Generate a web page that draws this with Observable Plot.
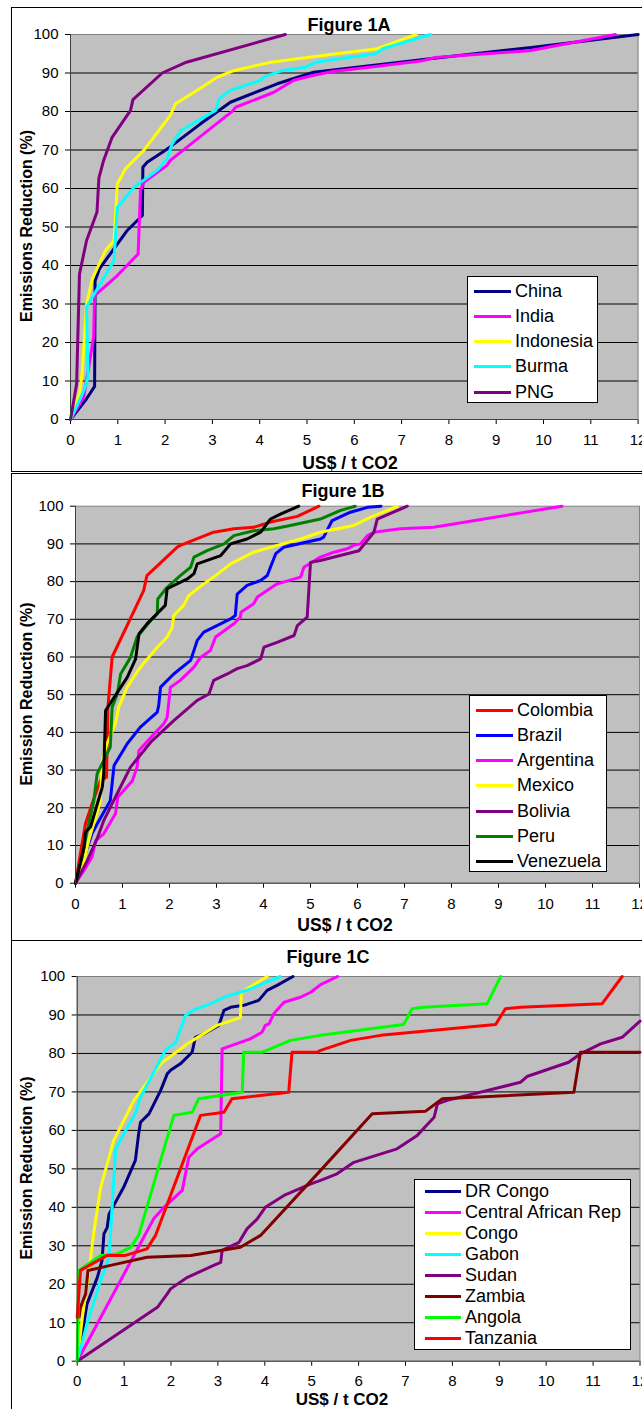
<!DOCTYPE html>
<html><head><meta charset="utf-8">
<script src="https://cdn.jsdelivr.net/npm/d3@7"></script>
<script src="https://cdn.jsdelivr.net/npm/@observablehq/plot@0.6"></script>
<style>
html,body{margin:0;padding:0;background:#fff;}
#page{position:relative;width:642px;height:1409px;overflow:hidden;font-family:'Liberation Sans',Arial,sans-serif;color:#000;}
.panel{position:absolute;left:0;}
.frame{position:absolute;border:1px solid #000;box-sizing:border-box;pointer-events:none;}
.t{position:absolute;font-weight:bold;line-height:1;white-space:nowrap;}
.legend{position:absolute;background:#fff;border:1px solid #000;box-sizing:border-box;}
.legend .sw{position:absolute;height:3px;}
.legend .lb{position:absolute;font-size:18px;line-height:1;white-space:nowrap;}
</style>
</head><body>
<div id="page"></div>
<script>
// ---------- Figure 1A ----------
const seriesA = ["China","India","Indonesia","Burma","PNG"];
const colorsA = ["#000080","#FF00FF","#FFFF00","#00FFFF","#800080"];
const china = [[0,0],[0.34,5.4],[0.51,8.6],[0.52,36],[0.61,39.1],[1.2,49.1],[1.52,53],[1.53,65.5],[1.62,66.8],[2.0,69.9],[2.15,71.2],[2.75,76.8],[3.38,82.4],[4.37,87.2],[5.14,90.2],[7.6,93.7],[9.79,96.7],[12,100]];
const india = [[0,0],[0.28,5.8],[0.49,21.4],[0.51,32.2],[0.99,37.4],[1.43,43],[1.48,59.5],[1.55,61.6],[2.04,66],[2.11,67.3],[3.31,79],[3.41,79.9],[3.49,81.1],[4.3,85],[4.72,88.1],[5.1,89.3],[5.5,90.3],[6.58,91.9],[7.44,93.2],[7.7,94],[9.7,95.8],[11.52,100]];
const indonesia = [[0,0],[0.2,7.1],[0.25,12.7],[0.34,30],[0.46,36.5],[0.74,43.9],[0.92,46.5],[0.99,61.2],[1.16,65.1],[1.55,69.9],[2.11,79],[2.22,82],[2.68,85.5],[3.1,88.9],[3.45,90.6],[4.23,92.8],[5.5,94.8],[6.49,96.3],[7.31,100]];
const burma = [[0,0],[0.3,8],[0.37,11],[0.34,29.2],[0.92,41.3],[0.99,55.1],[1.34,60.3],[1.83,64.7],[2.04,67.7],[2.15,71.6],[2.33,75],[3.07,80.3],[3.14,83.3],[3.38,85.5],[4.02,88.1],[4.09,89],[4.44,90.5],[4.97,91.5],[5.2,92.8],[5.5,93.4],[6.45,95],[6.6,96.3],[7.61,100]];
const png = [[0,0],[0.05,3.5],[0.13,9.3],[0.155,21.4],[0.19,37.8],[0.34,46.5],[0.56,53.9],[0.6,62.7],[0.7,67.3],[0.88,73.3],[1.27,80.3],[1.32,83.1],[1.94,90],[2.45,92.8],[4.54,100]];

// ---------- Figure 1B ----------
const seriesB = ["Colombia","Brazil","Argentina","Mexico","Bolivia","Peru","Venezuela"];
const colorsB = ["#FF0000","#0000FF","#FF00FF","#FFFF00","#800080","#008000","#000000"];
const colombia = [[0,0],[0.21,15.7],[0.35,21],[0.53,27.2],[0.66,28.1],[0.69,46.7],[0.78,60],[1.45,77.6],[1.52,81.6],[2.16,89.1],[2.23,89.6],[2.94,93.1],[3.37,94],[3.79,94.4],[4.15,95.8],[4.72,97.3],[5.18,100]];
const brazil = [[0,0],[0.35,13.1],[0.46,15.7],[0.74,21.9],[0.82,31.2],[1.1,37],[1.38,41.4],[1.74,45.4],[1.77,47.1],[1.81,52],[2.09,55.5],[2.45,59.1],[2.59,64.4],[2.73,66.6],[3.01,68.3],[3.3,70.1],[3.4,71],[3.44,76.7],[3.65,79],[3.94,80.3],[4.08,81.6],[4.26,87.4],[4.43,89.1],[5.21,91.3],[5.28,91.8],[5.46,96.2],[5.85,98.4],[6.21,99.7],[6.5,100]];
const argentina = [[0,0],[0.18,3.4],[0.35,6.9],[0.43,11.3],[0.6,13.1],[0.85,18.4],[0.9,22.8],[1.21,27.2],[1.31,30.8],[1.35,35.2],[1.67,39.6],[1.88,42.3],[1.95,44],[2.02,52],[2.23,53.8],[2.52,57.3],[2.66,59.9],[2.87,61.7],[2.98,65.3],[3.37,68.8],[3.51,70.6],[3.52,71.9],[3.79,74.1],[3.87,75.9],[4.29,79.4],[4.79,81.2],[4.86,83.8],[5.21,86.5],[5.5,87.8],[5.78,88.7],[5.92,89.6],[6.06,90],[6.21,92.2],[6.35,93.1],[6.91,94],[7.62,94.4],[10.35,100]];
const mexico = [[0,0],[0.18,6],[0.28,11.3],[0.53,21.9],[0.57,32.5],[0.67,37],[0.85,42.3],[0.92,46.7],[1.1,52],[1.38,57.3],[1.74,62.6],[1.95,65.3],[2.06,67.9],[2.09,71],[2.3,73.7],[2.41,76.3],[2.73,79.4],[2.94,81.2],[3.3,84.7],[3.79,87.8],[4.29,89.6],[4.79,91.3],[5.21,93.1],[5.92,94.9],[6.28,97.1],[6.85,100]];
const bolivia = [[0,0],[0.25,6],[0.46,11.8],[0.6,16.6],[0.92,24.6],[1.17,30.8],[1.6,37.4],[2.09,43.1],[2.59,48.5],[2.84,50.2],[2.94,53.8],[3.23,55.5],[3.44,56.9],[3.65,57.7],[3.94,59.5],[4.01,62.6],[4.29,63.9],[4.65,65.7],[4.72,68.3],[4.93,70.6],[5.0,85.1],[5.21,85.6],[6.03,88.2],[6.35,93.1],[6.42,96.6],[7.06,100]];
const peru = [[0,0],[0.14,6.9],[0.25,14],[0.39,21.9],[0.46,29],[0.53,30.8],[0.74,36.1],[0.78,46.7],[0.89,50.2],[0.96,55.5],[1.17,59.9],[1.31,65.3],[1.6,69.7],[1.74,71.4],[1.75,75.4],[1.95,78.5],[2.23,81.6],[2.45,83.8],[2.52,86.5],[2.8,88.2],[3.16,90],[3.37,92.2],[3.79,93.5],[4.22,94],[4.57,94.9],[5.21,96.6],[5.64,98.9],[5.95,100]];
const venezuela = [[0,0],[0.18,9.5],[0.21,13.5],[0.32,14.9],[0.57,25.5],[0.6,29],[0.64,45.8],[1.1,54.6],[1.28,59.5],[1.35,66.1],[1.52,68.8],[1.91,73.7],[1.95,78.1],[2.38,80.7],[2.52,82.1],[2.59,84.7],[3.09,86.9],[3.3,90],[3.65,91.3],[3.94,93.1],[4.15,96.6],[4.36,97.9],[4.75,100]];

// ---------- Figure 1C ----------
const seriesC = ["DR Congo","Central African Rep","Congo","Gabon","Sudan","Zambia","Angola","Tanzania"];
const colorsC = ["#000080","#FF00FF","#FFFF00","#00FFFF","#800080","#800000","#00FF00","#FF0000"];
const drCongo = [[0,0],[0.14,9.7],[0.21,14.9],[0.43,21.8],[0.53,26.2],[0.57,33.1],[0.64,34.8],[0.68,38.3],[0.78,40.5],[0.99,45.2],[1.24,52.2],[1.31,59.1],[1.35,62.1],[1.53,64.3],[1.78,70.4],[1.92,74.7],[1.99,75.6],[2.2,77.3],[2.45,80.3],[2.52,84.2],[2.7,85.1],[3.02,87.3],[3.13,91.2],[3.27,92],[3.55,92.5],[3.87,93.8],[4.05,96.4],[4.26,97.7],[4.6,100]];
const car = [[0,0],[1.63,37],[1.85,40],[2.24,44.4],[2.38,53],[2.56,55.2],[3.06,59.1],[3.09,81.2],[3.69,83.8],[3.94,85.5],[4.01,87.3],[4.09,87.7],[4.19,90.3],[4.41,93.3],[4.76,94.6],[4.98,95.9],[5.19,97.9],[5.55,100]];
const congo = [[0,0],[0.11,11.4],[0.28,26.2],[0.36,34],[0.5,45.2],[0.78,57.4],[1.21,67.8],[1.78,77.3],[2.35,82.5],[2.98,87.3],[3.48,89.3],[3.5,95.9],[4.05,100]];
const gabon = [[0,0],[0.21,9.7],[0.5,21],[0.68,27],[0.82,55.2],[1.07,60.8],[1.24,64.3],[1.35,68.6],[1.88,80.8],[2.1,82.9],[2.31,89.9],[2.49,91.3],[2.84,92.9],[3.13,94.6],[3.7,96.8],[4.33,100]];
const sudan = [[0,0],[1.71,14],[1.92,17.5],[1.99,18.8],[2.35,21.8],[2.91,24.9],[3.06,25.7],[3.09,28.8],[3.45,30.9],[3.62,34.4],[3.84,37],[4.01,40],[4.41,43.1],[4.98,46.1],[5.19,47],[5.54,48.7],[5.9,51.7],[6.82,55.2],[7.25,58.7],[7.61,63.4],[7.68,66.9],[7.89,67.8],[9.45,72.5],[9.59,74],[10.48,77.7],[10.73,79.9],[11.16,82.5],[11.62,84.2],[12,88.4]];
const zambia = [[0.04,11.5],[0.07,14],[0.18,17.5],[0.23,23.6],[0.71,24.9],[1.49,27],[2.42,27.5],[3.06,28.8],[3.48,29.6],[3.91,32.7],[5.19,49.6],[6.29,64.3],[7.43,65],[7.78,68.2],[10.59,69.9],[10.73,80.3],[12,80.3]];
const angola = [[0,0],[0.03,23.6],[0.5,27.5],[0.85,27.9],[1.14,29.6],[1.31,32.7],[2.06,63.9],[2.45,64.7],[2.59,68.2],[3.52,69.9],[3.55,80.3],[3.94,80.3],[4.55,83.4],[5.19,84.7],[6.96,87.5],[7.14,91.6],[7.39,92],[8.74,92.9],[9.03,100]];
const tanzania = [[0,11.4],[0.07,23.6],[0.64,27.5],[1.03,27.5],[1.49,29.2],[1.67,32.7],[2.63,63.9],[3.13,64.7],[3.3,68.2],[4.51,69.9],[4.58,80.3],[5.12,80.3],[5.19,80.8],[5.83,83.4],[6.47,84.7],[8.92,87.5],[9.13,91.6],[9.45,92],[11.19,92.9],[11.62,100]];

const xTicks = [0,1,2,3,4,5,6,7,8,9,10,11,12];
const yTicks = [0,10,20,30,40,50,60,70,80,90,100];

function table(names, arrays) {
  const rows = [];
  names.forEach((n, i) => arrays[i].forEach(([x, y]) => rows.push({series: n, x, y})));
  return rows;
}

const page = document.getElementById("page");

function panel(cfg) {
  const data = table(cfg.series, cfg.arrays);
  const chart = Plot.plot({
    width: 642, height: cfg.height,
    marginTop: cfg.mt, marginBottom: cfg.mb, marginLeft: cfg.ml, marginRight: cfg.mr,
    style: {fontFamily: "'Liberation Sans', Arial, sans-serif", fontSize: "15px", color: "#000", background: "transparent", overflow: "hidden"},
    x: {domain: [0, 12], ticks: xTicks, tickSize: 5, tickPadding: cfg.xpad, label: null, tickFormat: d => String(d)},
    y: {domain: [0, 100], ticks: yTicks, tickSize: 5, tickPadding: 7, label: null},
    color: {domain: cfg.series, range: cfg.colors},
    marks: [
      Plot.frame({fill: "#C0C0C0", stroke: "#808080"}),
      Plot.ruleY(yTicks.filter(v => v > 0 && v < 100), {stroke: "#000", strokeWidth: 1}),
      Plot.line(data, {x: "x", y: "y", z: "series", stroke: "series", strokeWidth: 3, strokeLinejoin: "round", strokeLinecap: "round"}),
      Plot.ruleX([0], {stroke: "#404040"}),
      Plot.ruleY([0], {stroke: "#404040"})
    ]
  });
  chart.classList.add("panel");
  chart.style.position = "absolute";
  chart.style.top = cfg.top + "px";
  chart.style.left = "0px";
  page.appendChild(chart);
}

function text(str, x, y, size, opts = {}) {
  const d = document.createElement("div");
  d.className = "t";
  d.textContent = str;
  d.style.fontSize = size + "px";
  if (opts.rotate) {
    d.style.left = x + "px";
    d.style.top = y + "px";
    d.style.transform = "translate(-50%,-50%) rotate(-90deg)";
  } else {
    d.style.left = x + "px";
    d.style.top = (y - 0.8465 * size) + "px"; // y = baseline
    d.style.transform = "translateX(-50%)";
  }
  page.appendChild(d);
}

function frame(l, t, w, h) {
  const d = document.createElement("div");
  d.className = "frame";
  Object.assign(d.style, {left: l + "px", top: t + "px", width: w + "px", height: h + "px"});
  page.appendChild(d);
}

function legend(cfg) {
  const box = document.createElement("div");
  box.className = "legend";
  Object.assign(box.style, {left: cfg.l + "px", top: cfg.t + "px", width: cfg.w + "px", height: cfg.h + "px"});
  cfg.series.forEach((n, i) => {
    const cy = cfg.y0 + cfg.dy * i;
    const sw = document.createElement("div");
    sw.className = "sw";
    Object.assign(sw.style, {left: cfg.sx + "px", width: cfg.sw + "px", top: (cy - 1.5) + "px", background: cfg.colors[i]});
    const lb = document.createElement("div");
    lb.className = "lb";
    lb.textContent = n;
    Object.assign(lb.style, {left: cfg.tx + "px", top: (cy - 9.5) + "px"});
    box.appendChild(sw);
    box.appendChild(lb);
  });
  page.appendChild(box);
}

// Panels
panel({series: seriesA, colors: colorsA, arrays: [china, india, indonesia, burma, png],
  top: 0, height: 472, mt: 34, mb: 53, ml: 70, mr: 4.4, xpad: 10});
panel({series: seriesB, colors: colorsB, arrays: [colombia, brazil, argentina, mexico, bolivia, peru, venezuela],
  top: 472, height: 468, mt: 33.7, mb: 57.3, ml: 75, mr: 3, xpad: 10});
panel({series: seriesC, colors: colorsC, arrays: [drCongo, car, congo, gabon, sudan, zambia, angola, tanzania],
  top: 940, height: 469, mt: 36, mb: 48.3, ml: 76.7, mr: 2.5, xpad: 9});

// Frames
frame(11, 7, 700, 465);
frame(11, 473, 700, 468);
frame(11, 940, 700, 520);

// Titles
text("Figure 1A", 349, 31, 18);
text("Figure 1B", 343, 497, 18);
text("Figure 1C", 328, 963, 18);
// X labels
text("US$ / t CO2", 350, 470, 17.5);
text("US$ / t CO2", 345, 932, 17.5);
text("US$ / t CO2", 342, 1405, 17);
// Y labels
text("Emissions Reduction (%)", 27, 226, 16, {rotate: true});
text("Emission Reduction (%)", 27, 694, 16, {rotate: true});
text("Emission Reduction (%)", 27, 1168, 16, {rotate: true});

// Legends
legend({series: seriesA, colors: colorsA, l: 467, t: 276, w: 131, h: 127, y0: 14, dy: 25.3, sx: 6, sw: 37, tx: 47});
legend({series: seriesB, colors: colorsB, l: 469, t: 695, w: 138, h: 177, y0: 14, dy: 25.3, sx: 6, sw: 37, tx: 47});
legend({series: seriesC, colors: colorsC, l: 414, t: 1179, w: 217, h: 171, y0: 11.7, dy: 21, sx: 10, sw: 36, tx: 50});
</script>
</body></html>
